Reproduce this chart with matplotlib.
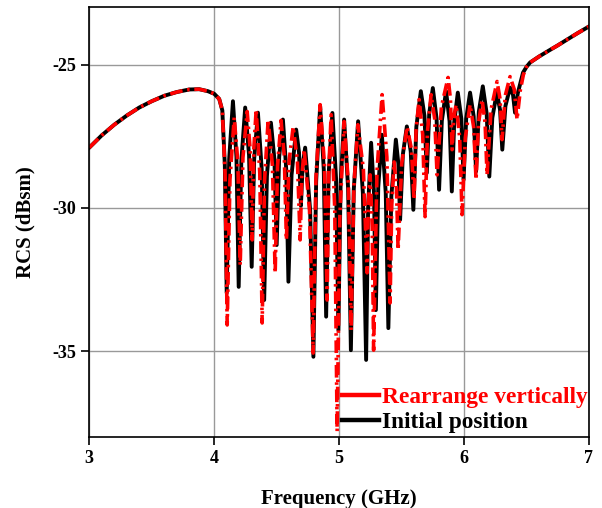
import matplotlib
matplotlib.use('Agg')
import matplotlib.pyplot as plt
from matplotlib.lines import Line2D

plt.rcParams['font.family'] = ['Liberation Serif', 'DejaVu Serif']
plt.rcParams['font.weight'] = 'bold'
plt.rcParams['axes.unicode_minus'] = False

# Initial position (black) (peaks, troughs and shoulders)
freq_init = [3.00, 3.10, 3.20, 3.30, 3.40, 3.50, 3.60, 3.70, 3.80, 3.88, 3.95, 4.00,
             4.04, 4.065, 4.085,
             4.10, 4.12, 4.15, 4.178, 4.196, 4.217, 4.248, 4.279, 4.30, 4.32,
             4.35, 4.38, 4.40, 4.422, 4.454, 4.482, 4.50, 4.52, 4.55, 4.576,
             4.594, 4.619, 4.656, 4.679, 4.694, 4.708, 4.728, 4.768, 4.794, 4.816,
             4.848, 4.877, 4.896, 4.916, 4.946, 4.975, 4.994, 5.012, 5.04, 5.072,
             5.094, 5.117, 5.152, 5.19, 5.216, 5.232, 5.256, 5.279, 5.294, 5.313,
             5.342, 5.373, 5.394, 5.418, 5.454, 5.474, 5.488, 5.51, 5.542, 5.573,
             5.594, 5.618, 5.654, 5.683, 5.702, 5.721, 5.75, 5.78, 5.80, 5.822,
             5.856, 5.884, 5.902, 5.921, 5.95, 5.978, 5.996, 6.017, 6.048, 6.077,
             6.096, 6.118, 6.15, 6.181, 6.202, 6.226, 6.262, 6.288, 6.306, 6.331,
             6.368, 6.392, 6.408, 6.43, 6.472, 6.50, 6.528, 6.60, 6.664, 6.75,
             6.824, 6.91, 7.00]
rcs_init = [-27.90, -27.47, -27.10, -26.78, -26.50, -26.28, -26.09, -25.96, -25.87, -25.86, -25.93, -26.02,
            -26.20, -26.60, -28.50,
            -32.97, -28.29, -26.28, -28.22, -32.76, -28.38, -26.50, -28.17, -32.06, -28.29,
            -26.68, -28.64, -33.22, -28.89, -27.03, -28.31, -31.30, -28.23, -26.92, -28.62,
            -32.58, -28.86, -27.27, -28.07, -29.93, -28.51, -27.90, -30.09, -35.20, -29.08,
            -26.46, -28.66, -33.80, -28.82, -26.69, -28.96, -34.27, -29.13, -26.92, -29.34,
            -34.97, -29.38, -26.98, -29.48, -35.31, -30.00, -27.73, -29.48, -33.57, -29.29,
            -27.45, -29.48, -34.20, -29.59, -27.62, -28.46, -30.42, -28.14, -27.16, -28.03,
            -30.07, -27.17, -25.93, -26.79, -28.78, -26.71, -25.82, -26.89, -29.37, -26.96,
            -25.93, -26.98, -29.43, -27.02, -25.98, -26.89, -29.02, -26.89, -25.98, -26.81,
            -28.73, -26.65, -25.76, -26.71, -28.91, -26.86, -25.98, -26.58, -27.97, -26.45,
            -25.80, -26.06, -26.68, -26.00, -25.28, -25.08, -24.93, -24.72, -24.55, -24.33,
            -24.13, -23.90, -23.67]

# Rearrange vertically (red)
freq_rear = [3.00, 3.10, 3.20, 3.30, 3.40, 3.50, 3.60, 3.70, 3.80, 3.88, 3.95, 4.00,
             4.04, 4.065, 4.087,
             4.104, 4.126, 4.16, 4.189, 4.208, 4.23, 4.264, 4.288, 4.304, 4.317,
             4.336, 4.365, 4.384, 4.403, 4.432, 4.466, 4.488, 4.507, 4.535, 4.561,
             4.578, 4.60, 4.632, 4.666, 4.688, 4.701, 4.72, 4.763, 4.792, 4.814,
             4.848, 4.882, 4.904, 4.917, 4.936, 4.965, 4.984, 5.006, 5.04, 5.074,
             5.096, 5.118, 5.15, 5.194, 5.224, 5.234, 5.248, 5.265, 5.276, 5.303,
             5.344, 5.382, 5.408, 5.421, 5.44, 5.459, 5.472, 5.501, 5.544, 5.578,
             5.60, 5.616, 5.64, 5.669, 5.688, 5.707, 5.736, 5.765, 5.784, 5.819,
             5.872, 5.891, 5.904, 5.917, 5.936, 5.965, 5.984, 6.01, 6.048, 6.077,
             6.096, 6.115, 6.144, 6.168, 6.184, 6.216, 6.264, 6.288, 6.304, 6.33,
             6.368, 6.402, 6.424, 6.45, 6.475, 6.50, 6.528, 6.60, 6.664, 6.75,
             6.824, 6.91, 7.00]
rcs_rear = [-27.90, -27.47, -27.10, -26.78, -26.50, -26.28, -26.09, -25.96, -25.87, -25.86, -25.93, -26.02,
            -26.20, -26.60, -28.80,
            -34.09, -29.02, -26.85, -28.40, -32.00, -28.25, -26.64, -27.98, -31.12, -27.94,
            -26.57, -28.81, -34.02, -29.05, -26.92, -28.53, -32.27, -28.55, -26.95, -28.20,
            -31.12, -28.36, -27.17, -28.36, -31.12, -28.92, -27.97, -30.10, -35.07, -29.00,
            -26.40, -28.45, -33.22, -28.69, -26.75, -30.05, -37.80, -30.26, -26.99, -29.17,
            -34.27, -29.25, -27.10, -28.65, -32.27, -29.88, -28.85, -30.69, -34.97, -28.73,
            -26.05, -28.23, -33.32, -29.88, -28.40, -29.32, -31.47, -28.46, -27.17, -27.94,
            -29.72, -27.27, -26.22, -27.45, -30.31, -27.33, -26.05, -26.89, -28.85, -26.47,
            -25.45, -26.21, -27.97, -26.87, -26.40, -27.55, -30.24, -27.55, -26.40, -27.19,
            -29.02, -27.06, -26.22, -27.01, -28.85, -26.57, -25.59, -26.20, -27.62, -26.08,
            -25.42, -25.87, -26.92, -25.90, -25.35, -25.08, -24.93, -24.72, -24.55, -24.33,
            -24.13, -23.90, -23.67]

x_ticks = [3, 4, 5, 6, 7]
y_ticks = [-35, -30, -25]

fig = plt.figure(figsize=(6.02, 5.08), dpi=100)
ax = fig.add_axes([0.1483, 0.1398, 0.8301, 0.8459])

ax.plot(freq_init, rcs_init, color='black', lw=2.8, solid_joinstyle='round')
ax.plot(freq_rear, rcs_rear, color='red', lw=2.6, linestyle=(0, (3.5, 1.3, 0.7, 1.3)))

ax.set_xlim(3, 7)
ax.set_ylim(-38.0, -23.0)
ax.set_xticks(x_ticks)
ax.set_yticks(y_ticks)
ax.set_xticklabels([str(v) for v in x_ticks])
ax.set_yticklabels([str(v) for v in y_ticks])
ax.grid(True, color='#999999', lw=1.0)
ax.set_axisbelow(True)
ax.tick_params(direction='out', length=6, width=1.2, labelsize=13, top=False, right=False)
for s in ax.spines.values():
    s.set_linewidth(1.2)

ax.set_xlabel('Frequency (GHz)', fontsize=15, fontweight='bold', labelpad=16)
ax.set_ylabel('RCS (dBsm)', fontsize=15, fontweight='bold', labelpad=12)

handles = [Line2D([], [], color='red', lw=3.2), Line2D([], [], color='black', lw=3.2)]
leg = ax.legend(handles, ['Rearrange vertically', 'Initial position'], loc='upper left',
                bbox_to_anchor=(0.505, 0.116), frameon=False, borderpad=0, borderaxespad=0,
                handlelength=1.6, handletextpad=0.13, labelspacing=0.13,
                prop={'size': 16.8, 'weight': 'bold'})
for t, c in zip(leg.get_texts(), ['red', 'black']):
    t.set_color(c)

fig.savefig('out.png', dpi=100)
